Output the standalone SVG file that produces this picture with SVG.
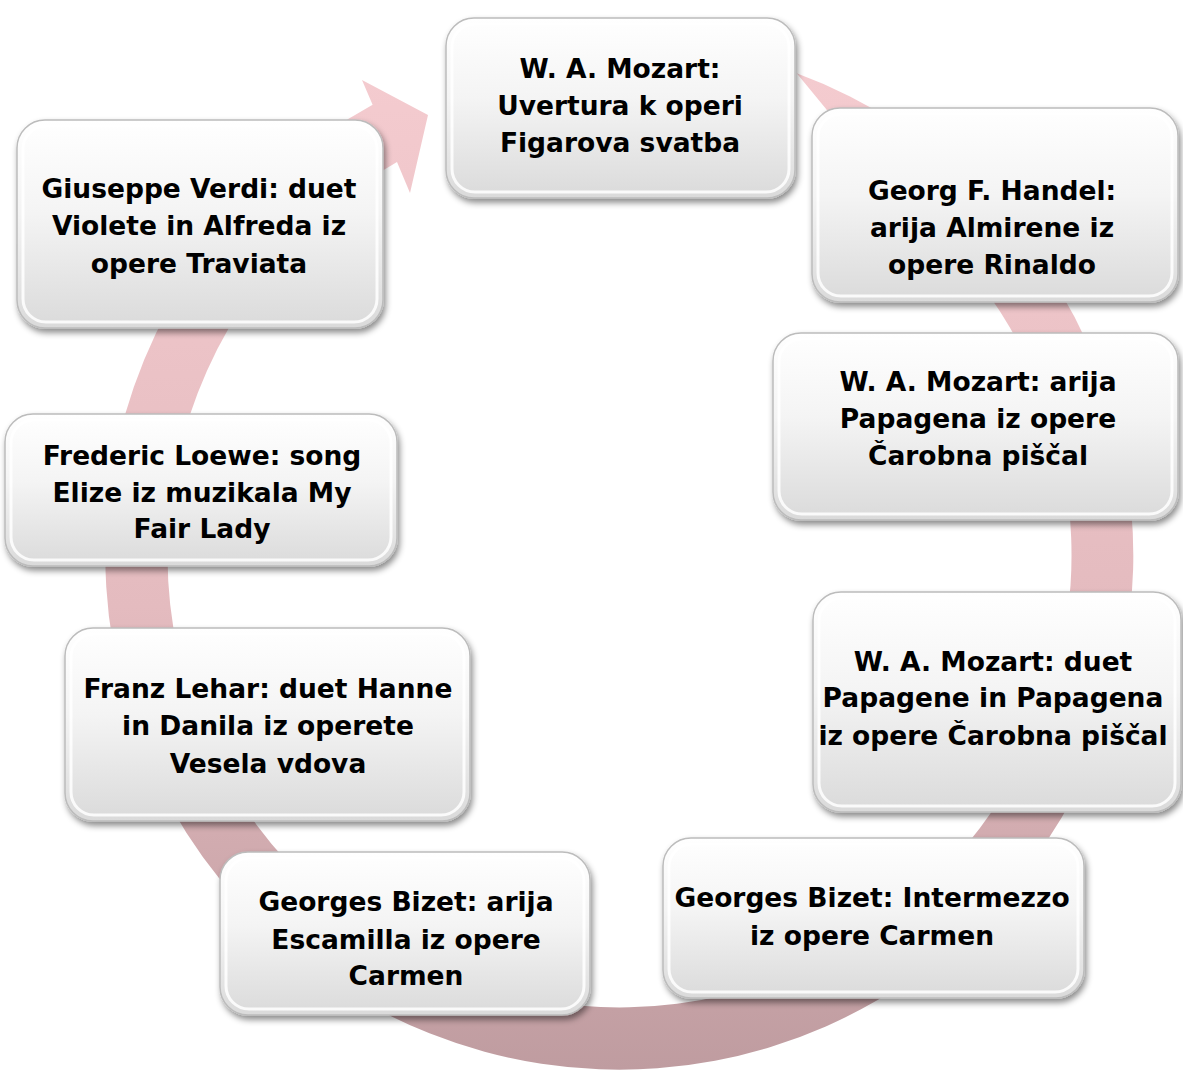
<svg xmlns="http://www.w3.org/2000/svg" width="1183" height="1075" viewBox="0 0 1183 1075">
  <defs>
    <linearGradient id="ringGrad" x1="0" y1="42" x2="0" y2="1070" gradientUnits="userSpaceOnUse">
      <stop offset="0" stop-color="#f5ccd0"/>
      <stop offset="0.55" stop-color="#e4bbbf"/>
      <stop offset="1" stop-color="#bf9ca0"/>
    </linearGradient>
    <linearGradient id="nodeGrad" x1="0" y1="0" x2="0" y2="1">
      <stop offset="0" stop-color="#ffffff"/>
      <stop offset="0.45" stop-color="#f4f4f4"/>
      <stop offset="1" stop-color="#dadada"/>
    </linearGradient>
    <filter id="shadow" x="-10%" y="-10%" width="125%" height="130%">
      <feDropShadow dx="2" dy="4" stdDeviation="3" flood-color="#000" flood-opacity="0.45"/>
    </filter>
    <style>
      .box { fill: url(#nodeGrad); stroke: #bcbcbc; stroke-width: 1.5; filter: url(#shadow); }
      .hl { fill: none; stroke: #ffffff; stroke-width: 3; opacity: 0.85; }
      .t { font-family: "DejaVu Sans", "Liberation Sans", sans-serif; font-weight: bold; font-size: 26.5px; fill: #000; text-anchor: middle; }
    </style>
  </defs>
  <rect x="0" y="0" width="1183" height="1075" fill="#ffffff"/>

  <g id="connectors">
    <path d="M 796.7 73.3 A 514 514 0 1 1 372.6 104.8 L 362 80 L 428 115 L 410 193 L 397 162 A 452 452 0 1 0 905 205 Z" fill="url(#ringGrad)"/>
  </g>

  <g id="node1">
    <rect class="box" x="446" y="18" width="349" height="180" rx="28"/>
    <rect class="hl" x="452" y="24" width="337" height="168" rx="23"/>
    <text class="t" x="620" y="78">W. A. Mozart:</text>
    <text class="t" x="620" y="115">Uvertura k operi</text>
    <text class="t" x="620" y="152">Figarova svatba</text>
  </g>

  <g id="node2">
    <rect class="box" x="812" y="108" width="366" height="194" rx="28"/>
    <rect class="hl" x="818" y="114" width="354" height="182" rx="23"/>
    <text class="t" x="992" y="200">Georg F. Handel:</text>
    <text class="t" x="992" y="237">arija Almirene iz</text>
    <text class="t" x="992" y="274">opere Rinaldo</text>
  </g>

  <g id="node3">
    <rect class="box" x="773" y="333" width="405" height="187" rx="28"/>
    <rect class="hl" x="779" y="339" width="393" height="175" rx="23"/>
    <text class="t" x="978" y="391">W. A. Mozart: arija</text>
    <text class="t" x="978" y="428">Papagena iz opere</text>
    <text class="t" x="978" y="465">Čarobna piščal</text>
  </g>

  <g id="node4">
    <rect class="box" x="813" y="592" width="368" height="220" rx="28"/>
    <rect class="hl" x="819" y="598" width="356" height="208" rx="23"/>
    <text class="t" x="993" y="671">W. A. Mozart: duet</text>
    <text class="t" x="993" y="707">Papagene in Papagena</text>
    <text class="t" x="993" y="745">iz opere Čarobna piščal</text>
  </g>

  <g id="node5">
    <rect class="box" x="663" y="838" width="421" height="160" rx="28"/>
    <rect class="hl" x="669" y="844" width="409" height="148" rx="23"/>
    <text class="t" x="872" y="907">Georges Bizet: Intermezzo</text>
    <text class="t" x="872" y="945">iz opere Carmen</text>
  </g>

  <g id="node6">
    <rect class="box" x="220" y="852" width="370" height="163" rx="28"/>
    <rect class="hl" x="226" y="858" width="358" height="151" rx="23"/>
    <text class="t" x="406" y="911">Georges Bizet: arija</text>
    <text class="t" x="406" y="949">Escamilla iz opere</text>
    <text class="t" x="406" y="985">Carmen</text>
  </g>

  <g id="node7">
    <rect class="box" x="65" y="628" width="405" height="193" rx="28"/>
    <rect class="hl" x="71" y="634" width="393" height="181" rx="23"/>
    <text class="t" x="268" y="698">Franz Lehar: duet Hanne</text>
    <text class="t" x="268" y="735">in Danila iz operete</text>
    <text class="t" x="268" y="773">Vesela vdova</text>
  </g>

  <g id="node8">
    <rect class="box" x="5" y="414" width="392" height="152" rx="28"/>
    <rect class="hl" x="11" y="420" width="380" height="140" rx="23"/>
    <text class="t" x="202" y="465">Frederic Loewe: song</text>
    <text class="t" x="202" y="502">Elize iz muzikala My</text>
    <text class="t" x="202" y="538">Fair Lady</text>
  </g>

  <g id="node9">
    <rect class="box" x="17" y="120" width="366" height="208" rx="28"/>
    <rect class="hl" x="23" y="126" width="354" height="196" rx="23"/>
    <text class="t" x="199" y="198">Giuseppe Verdi: duet</text>
    <text class="t" x="199" y="235">Violete in Alfreda iz</text>
    <text class="t" x="199" y="273">opere Traviata</text>
  </g>
</svg>
